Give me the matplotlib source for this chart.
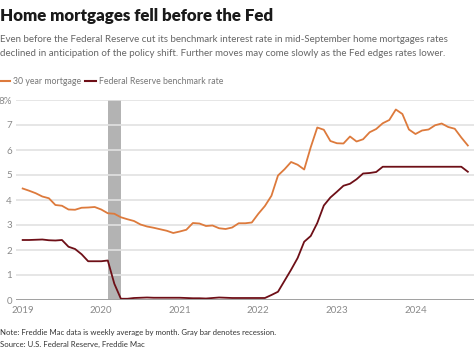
import matplotlib.pyplot as plt
from matplotlib.lines import Line2D

# monthly values, Jan 2019 - Sep 2024
mortgage = [4.46, 4.37, 4.27, 4.14, 4.07, 3.80, 3.77, 3.62, 3.61, 3.69, 3.70, 3.72,
            3.62, 3.47, 3.45, 3.31, 3.23, 3.16, 3.02, 2.94, 2.89, 2.83, 2.77, 2.68,
            2.74, 2.81, 3.08, 3.06, 2.96, 2.98, 2.87, 2.84, 2.90, 3.07, 3.07, 3.10,
            3.45, 3.76, 4.17, 4.98, 5.23, 5.52, 5.41, 5.22, 6.11, 6.90, 6.81, 6.36,
            6.27, 6.26, 6.54, 6.34, 6.43, 6.71, 6.84, 7.07, 7.20, 7.62, 7.44, 6.82,
            6.64, 6.78, 6.82, 6.99, 7.06, 6.92, 6.85, 6.50, 6.18]
fed_rate = [2.40, 2.40, 2.41, 2.42, 2.39, 2.38, 2.40, 2.13, 2.04, 1.83, 1.55, 1.55,
            1.55, 1.58, 0.65, 0.05, 0.05, 0.08, 0.09, 0.10, 0.09, 0.09, 0.09, 0.09,
            0.09, 0.08, 0.07, 0.07, 0.06, 0.08, 0.10, 0.09, 0.08, 0.08, 0.08, 0.08,
            0.08, 0.08, 0.20, 0.33, 0.77, 1.21, 1.68, 2.33, 2.56, 3.08, 3.78, 4.10,
            4.33, 4.57, 4.65, 4.83, 5.06, 5.08, 5.12, 5.33, 5.33, 5.33, 5.33, 5.33,
            5.33, 5.33, 5.33, 5.33, 5.33, 5.33, 5.33, 5.33, 5.13]
years = [2019, 2020, 2021, 2022, 2023, 2024]
yticks = [0, 1, 2, 3, 4, 5, 6, 7, 8]
recession = (2020 + 1/12, 2020 + 3/12)

months = [2019 + i / 12 for i in range(len(mortgage))]

orange = "#dd7a3c"
darkred = "#6e0f17"

plt.rcParams['font.family'] = ['Lato', 'DejaVu Sans']

fig = plt.figure(figsize=(4.74, 3.52), dpi=100)
ax = fig.add_axes([16/474, 52/352, 458/474, 200/352])

ax.axvspan(recession[0], recession[1], color="#b3b3b3", lw=0, zorder=1)
ax.plot(months, mortgage, color=orange, lw=1.3, zorder=3)
ax.plot(months, fed_rate, color=darkred, lw=1.3, zorder=3)

ax.set_ylim(0, 8)
ax.set_xlim(2019 - 0.085, 2024.745)
ax.set_yticks(yticks)
ax.set_yticklabels([str(v) if v < 8 else "8%" for v in yticks])
ax.set_xticks(years)
ax.set_xticklabels([str(y) for y in years])
ax.grid(axis="y", color="#e1e1e1", lw=1.2, zorder=0)
ax.axhline(0, color="#9a9a9a", lw=2, zorder=4)
for s in ax.spines.values():
    s.set_visible(False)
ax.tick_params(axis="both", length=0, labelsize=7, labelcolor="#8a8a8a")
ax.tick_params(axis="y", pad=3)
ax.tick_params(axis="x", pad=4)

fig.text(0.0, 1 - 16/352, "Home mortgages fell before the Fed", fontsize=12.2,
         fontweight="heavy", color="#1a1a1a", va="center", ha="left")
fig.text(0.0, 1 - 40/352, "Even before the Federal Reserve cut its benchmark interest rate in mid-September home mortgages rates",
         fontsize=7.0, color="#666666", va="center", ha="left")
fig.text(0.0, 1 - 53/352, "declined in anticipation of the policy shift. Further moves may come slowly as the Fed edges rates lower.",
         fontsize=7.0, color="#666666", va="center", ha="left")

ly = 1 - 81/352
fig.add_artist(Line2D([0, 10/474], [ly, ly], color=orange, lw=1.5))
fig.text(13/474, ly, "30 year mortgage", fontsize=6.3, color="#777777", va="center")
fig.add_artist(Line2D([85/474, 96/474], [ly, ly], color=darkred, lw=1.5))
fig.text(99/474, ly, "Federal Reserve benchmark rate", fontsize=6.3, color="#777777", va="center")

fig.text(0.0, 1 - 333/352, "Note: Freddie Mac data is weekly average by month. Gray bar denotes recession.",
         fontsize=5.6, color="#333333", va="center")
fig.text(0.0, 1 - 344/352, "Source: U.S. Federal Reserve, Freddie Mac",
         fontsize=5.6, color="#333333", va="center")

fig.savefig("out.png", dpi=100)
